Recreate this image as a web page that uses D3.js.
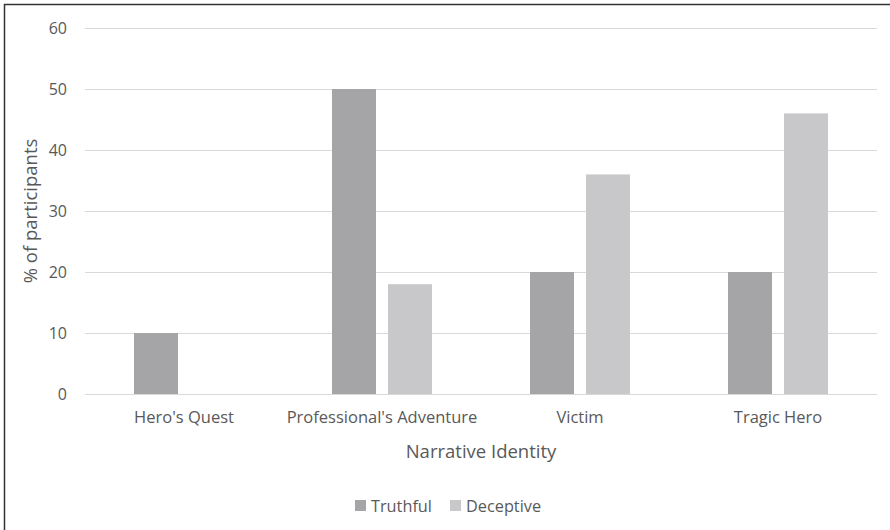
<!DOCTYPE html>
<html>
<head>
<meta charset="utf-8">
<script src="https://cdn.jsdelivr.net/npm/d3@7"></script>
<style>
  body { margin: 0; background: #fff; }
  svg { display: block; font-family: "Open Sans", sans-serif; }
</style>
</head>
<body>
<svg></svg>
<script>
const width = 890;
const height = 530;
const margin = { top: 28, right: 13, bottom: 136, left: 85 };

const categories = ["Hero's Quest", "Professional's Adventure", "Victim", "Tragic Hero"];
const series = ["Truthful", "Deceptive"];
const truthful = [10, 50, 20, 20];
const deceptive = [0, 18, 36, 46];
const yTicks = [0, 10, 20, 30, 40, 50, 60];

const colors = ["#a5a5a8", "#c8c8ca"];
const textColor = "#595959";
const font = "'Open Sans', sans-serif";

const svg = d3.select("svg").attr("width", width).attr("height", height);

// Outer chart frame
svg.append("rect")
  .attr("x", 4.5).attr("y", 4.5)
  .attr("width", width).attr("height", height)
  .attr("fill", "none").attr("stroke", "#333").attr("stroke-width", 1.5);

const x = d3.scaleBand()
  .domain(categories)
  .range([margin.left, width - margin.right]);

// two bars of ~44px with a 12px gap, centred in each band
const xInner = d3.scaleBand()
  .domain(series)
  .range([x.bandwidth() / 2 - 50, x.bandwidth() / 2 + 50])
  .paddingInner(0.214);

const y = d3.scaleLinear()
  .domain([0, 60])
  .range([height - margin.bottom, margin.top]);

// Gridlines
svg.append("g")
  .selectAll("line")
  .data(yTicks)
  .join("line")
  .attr("x1", margin.left)
  .attr("x2", width - margin.right)
  .attr("y1", d => Math.round(y(d)) + 0.5)
  .attr("y2", d => Math.round(y(d)) + 0.5)
  .attr("stroke", "#d9d9d9")
  .attr("stroke-width", 1);

// Y axis labels
svg.append("g")
  .attr("transform", `translate(${margin.left},0)`)
  .call(d3.axisLeft(y).tickValues(yTicks).tickSize(0).tickPadding(18))
  .call(g => g.select(".domain").remove())
  .attr("font-family", font)
  .attr("font-size", 16)
  .selectAll("text")
  .attr("fill", textColor);

// Bars
const rows = categories.map((c, i) => ({ category: c, values: [truthful[i], deceptive[i]] }));

svg.append("g")
  .selectAll("g")
  .data(rows)
  .join("g")
  .attr("transform", d => `translate(${x(d.category)},0)`)
  .selectAll("rect")
  .data(d => d.values.map((v, i) => ({ key: series[i], value: v })))
  .join("rect")
  .attr("x", d => xInner(d.key))
  .attr("y", d => y(d.value))
  .attr("width", xInner.bandwidth())
  .attr("height", d => y(0) - y(d.value))
  .attr("fill", (d, i) => colors[i]);

// X axis labels
svg.append("g")
  .attr("transform", `translate(0,${y(0)})`)
  .call(d3.axisBottom(x).tickSize(0).tickPadding(17))
  .call(g => g.select(".domain").remove())
  .attr("font-family", font)
  .attr("font-size", 16.5)
  .selectAll("text")
  .attr("fill", textColor);

// Axis titles
svg.append("text")
  .attr("x", (margin.left + width - margin.right) / 2)
  .attr("y", 458)
  .attr("text-anchor", "middle")
  .style("font-size", "18.5px")
  .attr("fill", textColor)
  .text("Narrative Identity");

svg.append("text")
  .attr("transform", `translate(37,${(margin.top + y(0)) / 2}) rotate(-90)`)
  .attr("text-anchor", "middle")
  .style("font-size", "18.5px")
  .attr("fill", textColor)
  .text("% of participants");

// Legend
const legendX = [355, 450];
const legend = svg.append("g")
  .selectAll("g")
  .data(series)
  .join("g")
  .attr("transform", (d, i) => `translate(${legendX[i]},500)`);

legend.append("rect")
  .attr("width", 11).attr("height", 11)
  .attr("fill", (d, i) => colors[i]);

legend.append("text")
  .attr("x", 16).attr("y", 11.5)
  .style("font-size", "16.3px")
  .attr("fill", textColor)
  .text(d => d);
</script>
</body>
</html>
